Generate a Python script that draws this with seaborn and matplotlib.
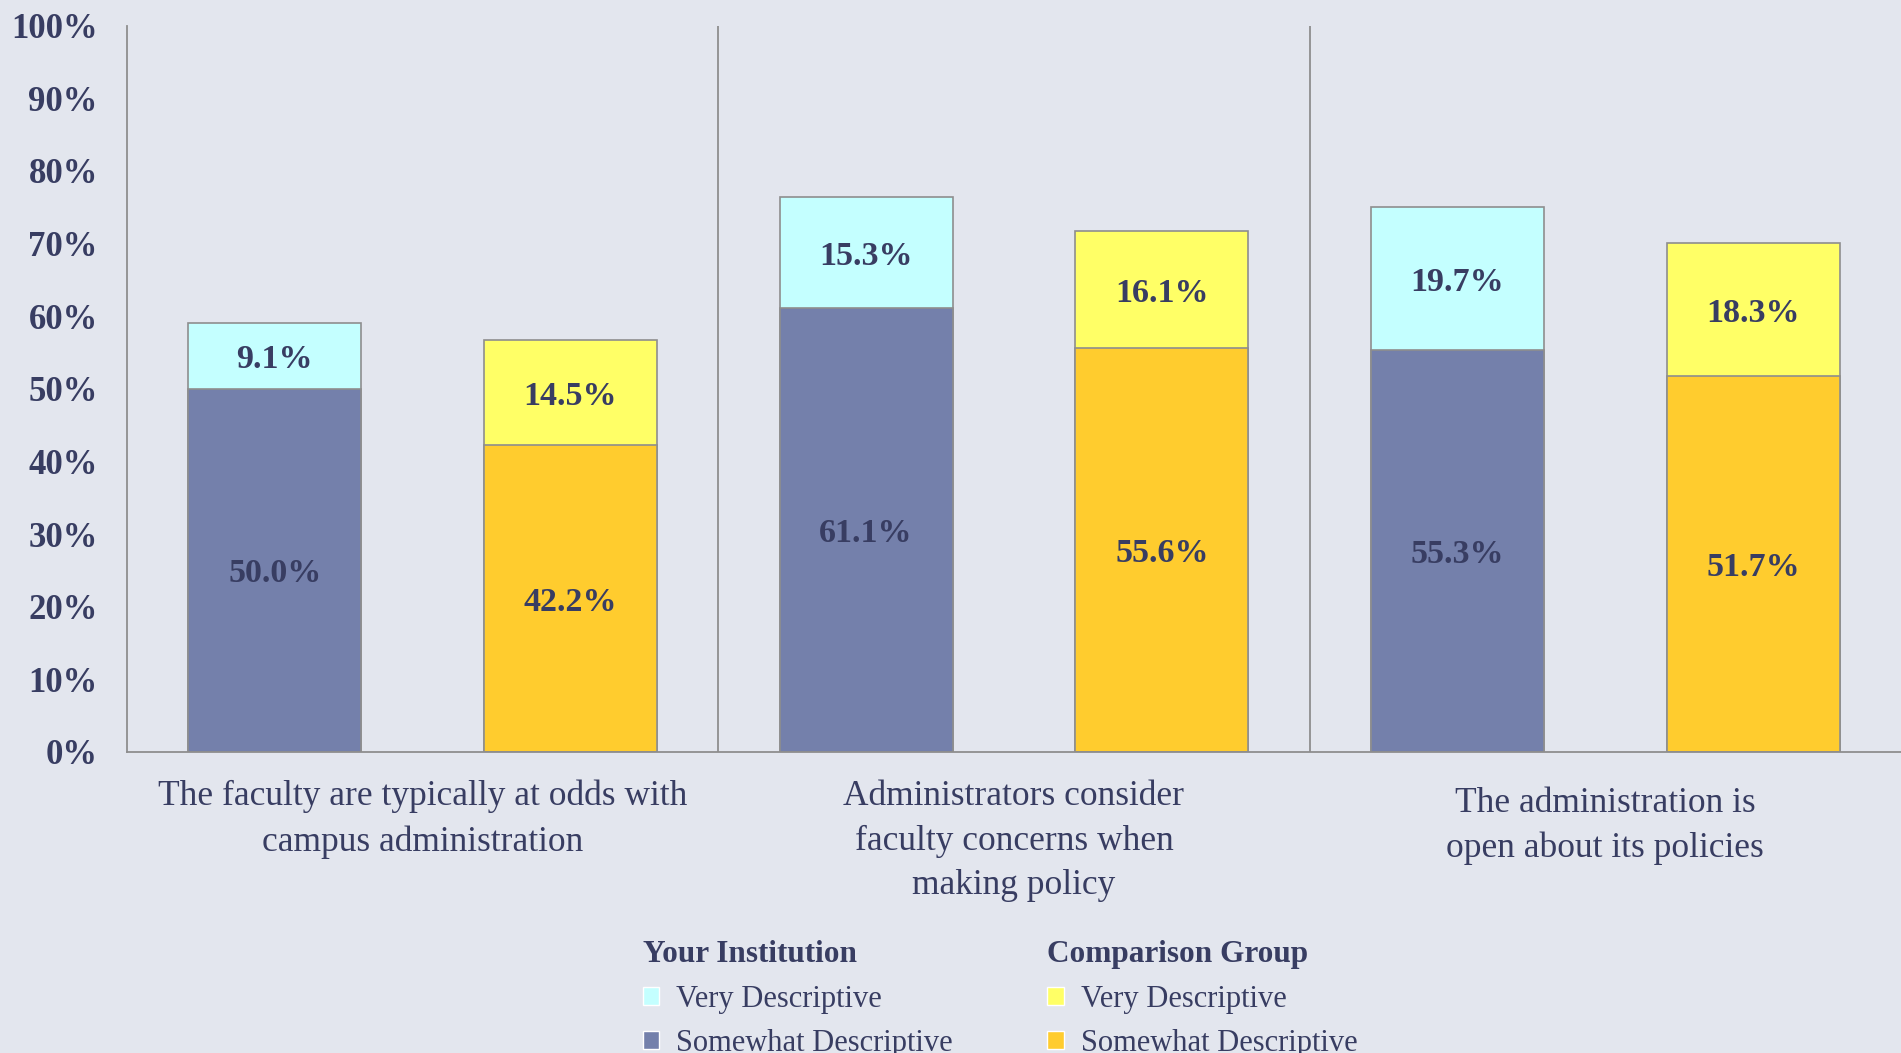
import pandas as pd
import matplotlib
matplotlib.use("Agg")
import matplotlib.pyplot as plt
from matplotlib.patches import Patch
from matplotlib.transforms import ScaledTranslation
import seaborn as sns

categories = ["The faculty are typically at odds with\ncampus administration",
              "Administrators consider\nfaculty concerns when\nmaking policy",
              "The administration is\nopen about its policies"]
groups = ["Your Institution", "Comparison Group"]
inst_somewhat = [50.0, 61.1, 55.3]
inst_very = [9.1, 15.3, 19.7]
comp_somewhat = [42.2, 55.6, 51.7]
comp_very = [14.5, 16.1, 18.3]
yticks = [0, 10, 20, 30, 40, 50, 60, 70, 80, 90, 100]

BG = "#e3e6ee"
TXT = "#383d62"
EDGE = "#8e8e8e"
C_SLATE = "#7480ab"
C_CYAN = "#c4ffff"
C_YEL = "#ffff66"
C_GOLD = "#ffcc2e"

rows = []
for i, c in enumerate(categories):
    rows.append(dict(cat=c, group=groups[0], somewhat=inst_somewhat[i], very=inst_very[i]))
    rows.append(dict(cat=c, group=groups[1], somewhat=comp_somewhat[i], very=comp_very[i]))
df = pd.DataFrame(rows)
df["total"] = df["somewhat"] + df["very"]

sns.set_style("white")
plt.rcParams["font.family"] = ["Liberation Serif", "DejaVu Serif"]

fig = plt.figure(figsize=(19.01, 10.53), dpi=100, facecolor=BG)
ax = fig.add_axes([0.0668, 0.2859, 0.9332, 0.6898])
ax.set_facecolor(BG)

# top segment: draw full stack height first, then overlay the lower segment
bar_kw = dict(order=categories, hue_order=groups, width=1.0, gap=0.414, saturation=1,
              edgecolor=EDGE, linewidth=1.2, legend=False, ax=ax)
sns.barplot(data=df, x="cat", y="total", hue="group", palette=[C_CYAN, C_YEL], **bar_kw)
sns.barplot(data=df, x="cat", y="somewhat", hue="group", palette=[C_SLATE, C_GOLD], **bar_kw)

# value labels, centred in each segment
tops = ax.containers[:2]
for gi, tc in enumerate(tops):
    sub = df[df["group"] == groups[gi]].reset_index(drop=True)
    for k, p in enumerate(tc.patches):
        xc = p.get_x() + p.get_width() / 2
        s, v = sub["somewhat"][k], sub["very"][k]
        ax.text(xc, s / 2, f"{s:.1f}%", ha="center", va="center_baseline",
                fontsize=24.5, fontweight="bold", color=TXT)
        ax.text(xc, s + v / 2, f"{v:.1f}%", ha="center", va="center_baseline",
                fontsize=24.5, fontweight="bold", color=TXT)

ax.set_xlim(-0.5, len(categories) - 0.5)
ax.set_ylim(0, 100)
ax.set_yticks(yticks)
ax.set_yticklabels([f"{t}%" for t in yticks], fontsize=25, fontweight="bold", color=TXT)
ax.tick_params(axis="y", length=0, pad=21)
ax.tick_params(axis="x", length=0, pad=20)
ax.set_xticks(range(len(categories)))
ax.set_xticklabels(categories, fontsize=25.5, color=TXT, linespacing=1.47, va="top")
lbl = ax.get_xticklabels()[2]
lbl.set_transform(lbl.get_transform() + ScaledTranslation(0, -5 / 72, fig.dpi_scale_trans))
ax.set_xlabel("")
ax.set_ylabel("")

for s in ["top", "right"]:
    ax.spines[s].set_visible(False)
for s in ["left", "bottom"]:
    ax.spines[s].set_color(EDGE)
    ax.spines[s].set_linewidth(1.3)
for xv in [0.5, 1.5]:
    ax.axvline(xv, color=EDGE, linewidth=1.3)

# legends
h_inst = [Patch(facecolor=C_CYAN), Patch(facecolor=C_SLATE)]
h_comp = [Patch(facecolor=C_YEL), Patch(facecolor=C_GOLD)]
labs = ["Very Descriptive", "Somewhat Descriptive"]
for handles, title, xpos in [(h_inst, groups[0], 0.338), (h_comp, groups[1], 0.551)]:
    leg = fig.legend(handles, labs, title=title, loc="upper left",
                     bbox_to_anchor=(xpos, 0.107), frameon=False, borderpad=0,
                     borderaxespad=0, prop={"size": 22}, labelcolor=TXT,
                     handlelength=0.55, handleheight=0.55, handletextpad=0.55,
                     labelspacing=0.5, alignment="left")
    leg.get_title().set_fontsize(22.5)
    leg.get_title().set_fontweight("bold")
    leg.get_title().set_color(TXT)

fig.savefig("out.png", dpi=100, facecolor=BG)
